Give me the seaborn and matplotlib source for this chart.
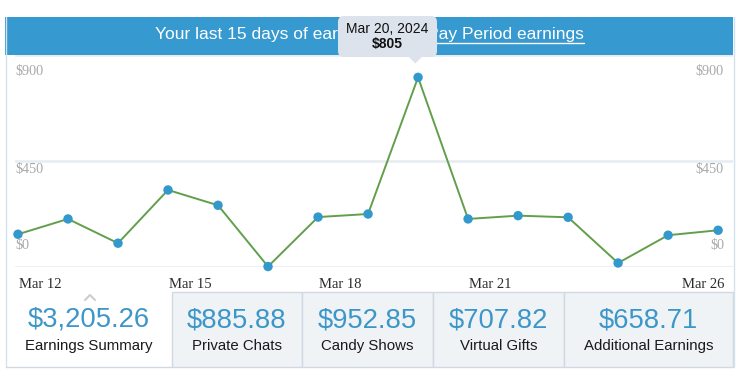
import matplotlib
matplotlib.use("Agg")
import matplotlib.pyplot as plt
import matplotlib.transforms as mtransforms
from matplotlib.patches import Rectangle, FancyBboxPatch, Polygon
from matplotlib.lines import Line2D
import seaborn as sns
import pandas as pd

# ---------------- data ----------------
days = ["Mar 12", "Mar 13", "Mar 14", "Mar 15", "Mar 16", "Mar 17", "Mar 18", "Mar 19",
        "Mar 20", "Mar 21", "Mar 22", "Mar 23", "Mar 24", "Mar 25", "Mar 26"]
earnings = [139, 204, 101, 327, 262, 2, 212, 225, 805, 204, 218, 211, 17, 135, 156]
y_ticks = [0, 450, 900]
y_tick_labels = ["$0", "$450", "$900"]
x_label_days = ["Mar 12", "Mar 15", "Mar 18", "Mar 21", "Mar 26"]
summary_values = ["$3,205.26", "$885.88", "$952.85", "$707.82", "$658.71"]
summary_labels = ["Earnings Summary", "Private Chats", "Candy Shows", "Virtual Gifts",
                  "Additional Earnings"]
tooltip_date = "Mar 20, 2024"
tooltip_value = "$805"
header_text = "Your last 15 days of earnings"
header_link = "View Pay Period earnings"

df = pd.DataFrame({"day": days, "idx": range(len(days)), "earnings": earnings})

# ---------------- figure ----------------
W, H = 741, 376
sns.set_theme(style="white")
plt.rcParams["font.family"] = ["Liberation Sans", "DejaVu Sans"]
fig = plt.figure(figsize=(W / 100, H / 100), dpi=100)
fig.patch.set_facecolor("white")

BLUE = "#3699cf"
VAL_BLUE = "#3d96c8"

# background / decoration axes in pixel coordinates (y down)
deco = fig.add_axes([0, 0, 1, 1], zorder=0)
deco.set_xlim(0, W)
deco.set_ylim(H, 0)
deco.axis("off")

# header bar
deco.add_patch(Rectangle((5, 17), 728, 38, facecolor=BLUE, edgecolor="none"))
# chart box side borders
deco.add_line(Line2D([5.5, 5.5], [17, 367], color="#d3e2ec", lw=1))
deco.add_line(Line2D([733.5, 733.5], [17, 367], color="#d3e2ec", lw=1))

# header texts
t1 = deco.text(155, 34.5, header_text, color="white", fontsize=12.5, ha="left", va="center")
t2 = deco.text(584, 34.5, header_link, color="white", fontsize=12.5, ha="right", va="center")

# bottom summary panels
edges = [5, 172, 302, 433, 564, 733]
for i in range(len(summary_values)):
    x0, x1 = edges[i], edges[i + 1]
    if i == 0:
        deco.add_patch(Rectangle((x0 + 0.5, 292), x1 - x0, 75, facecolor="white",
                                 edgecolor="none"))
        deco.add_line(Line2D([x0 + 0.5, x1], [367, 367], color="#d0d9e1", lw=1))
    else:
        deco.add_patch(Rectangle((x0, 292), x1 - x0, 75, facecolor="#eff3f6",
                                 edgecolor="#d0d9e1", lw=1))
    cx = (x0 + x1) / 2
    deco.text(cx, 320, summary_values[i], color=VAL_BLUE, fontsize=19.7,
              ha="center", va="center")
    deco.text(cx, 346, summary_labels[i], color="#1a1a1a", fontsize=10.8,
              ha="center", va="center")
# caret above the active panel
deco.add_line(Line2D([85, 90, 95], [300, 295, 300], color="#c9ced3", lw=1.5))

# ---------------- chart axes ----------------
px_left, px_right, px_top, px_bottom = 15, 733, 55, 267
first_pt, last_pt = 12, 718
ppu = (last_pt - first_pt) / (len(days) - 1)
ax = fig.add_axes([px_left / W, 1 - px_bottom / H, (px_right - px_left) / W,
                   (px_bottom - px_top) / H], zorder=1)
ax.patch.set_alpha(0)
sns.lineplot(data=df, x="idx", y="earnings", ax=ax, color="#619f4b", lw=1.4)
sns.scatterplot(data=df, x="idx", y="earnings", ax=ax, color="#3399cc", s=46,
                edgecolor="none", zorder=3)
ax.set_xlim(-(px_left - first_pt) / ppu, (len(days) - 1) + (px_right - last_pt) / ppu)
ax.set_ylim(0, 900)
ax.set_yticks(y_ticks)
ax.set_xticks([])
ax.tick_params(left=False, labelleft=False, bottom=False, labelbottom=False)
ax.grid(axis="y", color="#e6ecf3", lw=1.8)
ax.set_xlabel("")
ax.set_ylabel("")
for s in ax.spines.values():
    s.set_visible(False)
for art in list(ax.lines) + list(ax.collections):
    art.set_clip_on(False)

# y tick labels (left and right), offsets in pixels from the gridline
label_offsets = {0: 22, 450: -8, 900: -17}
blend = mtransforms.blended_transform_factory(ax.transAxes, ax.transData)
for v, lab in zip(y_ticks, y_tick_labels):
    trL = mtransforms.offset_copy(blend, fig=fig, x=0, y=label_offsets[v], units="dots")
    ax.text(0, v, lab, transform=trL, ha="left", va="center", fontsize=10.2,
            color="#a9a9a9", family=["Liberation Serif", "DejaVu Serif"])
    trR = mtransforms.offset_copy(blend, fig=fig, x=-9, y=label_offsets[v], units="dots")
    ax.text(1, v, lab, transform=trR, ha="right", va="center", fontsize=10.2,
            color="#a9a9a9", family=["Liberation Serif", "DejaVu Serif"])

# x labels
blendx = mtransforms.blended_transform_factory(ax.transData, ax.transAxes)
for j, lab in enumerate(x_label_days):
    i = days.index(lab)
    last = j == len(x_label_days) - 1
    tr = mtransforms.offset_copy(blendx, fig=fig, x=6 if last else 1, y=-17.5, units="dots")
    ax.text(i, 0, lab, transform=tr, ha="right" if last else "left", va="center",
            fontsize=10.5, color="#2b2b2b", family=["Liberation Serif", "DejaVu Serif"])

# ---------------- overlay (tooltip) ----------------
top = fig.add_axes([0, 0, 1, 1], zorder=5)
top.set_xlim(0, W)
top.set_ylim(H, 0)
top.axis("off")
top.patch.set_alpha(0)

# underline of the link text
fig.canvas.draw()
bb = t2.get_window_extent(renderer=fig.canvas.get_renderer())
deco.add_line(Line2D([bb.x0, bb.x1], [43, 43], color="white", lw=1))

peak_i = days.index("Mar 20")
peak_x = first_pt + peak_i * ppu
top.add_patch(FancyBboxPatch((338, 16), 99, 41,
                             boxstyle="round,pad=0,rounding_size=6",
                             facecolor="#dce3ed", edgecolor="none"))
top.add_patch(Polygon([(peak_x - 7, 56.5), (peak_x + 7, 56.5), (peak_x, 63.5)],
                      closed=True, facecolor="#dce3ed", edgecolor="none"))
top.text(387.5, 29, tooltip_date, fontsize=10, color="#111111", ha="center", va="center")
top.text(387.5, 44, tooltip_value, fontsize=10, color="#111111", ha="center",
         va="center", fontweight="bold")

fig.savefig("out.png", dpi=100, facecolor="white")
